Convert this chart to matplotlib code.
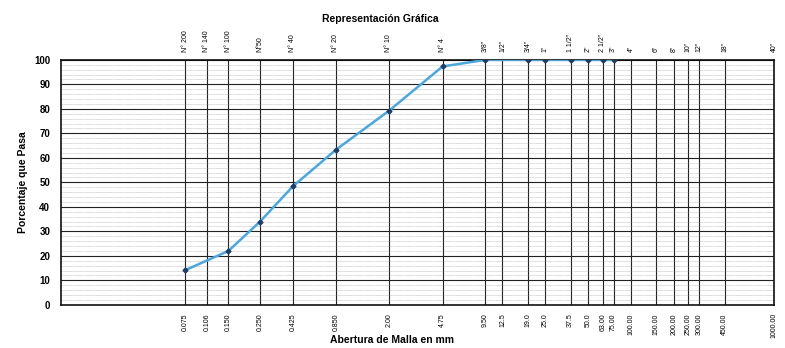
import matplotlib
matplotlib.use("Agg")
import matplotlib.pyplot as plt
import numpy as np

plt.rcParams['font.family'] = ['Liberation Sans', 'DejaVu Sans']

# tamices: abertura (mm) y designacion
sieve_mm = [0.075, 0.106, 0.150, 0.250, 0.425, 0.850, 2.00, 4.75, 9.50, 12.5,
            19.0, 25.0, 37.5, 50.0, 63.0, 75.0, 100.0, 150.0, 200.0, 250.0,
            300.0, 450.0, 1000.0]
sieve_mm_labels = ['0.075', '0.106', '0.150', '0.250', '0.425', '0.850', '2.00',
                   '4.75', '9.50', '12.5', '19.0', '25.0', '37.5', '50.0', '63.00',
                   '75.00', '100.00', '150.00', '200.00', '250.00', '300.00',
                   '450.00', '1000.00']
sieve_names = ['N° 200', 'N° 140', 'N° 100', 'N°50', 'N° 40', 'N° 20', 'N° 10',
               'N° 4', '3/8"', '1/2"', '3/4"', '1"', '1 1/2"', '2"', '2 1/2"',
               '3"', '4"', '6"', '8"', '10"', '12"', '18"', '40"']

# curva granulometrica
abertura = [0.075, 0.150, 0.250, 0.425, 0.850, 2.00, 4.75, 9.50, 19.0, 25.0,
            37.5, 50.0, 63.0, 75.0]
pasa = [14.2, 22.0, 34.0, 48.4, 63.3, 79.2, 97.3, 100, 100, 100,
        100, 100, 100, 100]

fig = plt.figure(figsize=(7.85, 3.48), dpi=100)
ax = fig.add_axes([0.078, 0.124, 0.908, 0.704])

ax.set_xscale('log')
ax.set_xlim(0.0101, 1000)
ax.set_ylim(0, 100)

# rejilla: verticales en cada tamiz, horizontales cada 10 y secundarias cada 2
for x in sieve_mm:
    ax.axvline(x, color='#222222', lw=0.8, zorder=1)
for y in np.arange(10, 100, 10):
    ax.axhline(y, color='#222222', lw=0.8, zorder=1)
for y in np.arange(0, 100, 2):
    if y % 10:
        ax.axhline(y, color='#999999', lw=0.4, ls=(0, (1, 1)), zorder=1)

ax.plot(abertura, pasa, color='#4da6dc', lw=1.8, zorder=3)
ax.plot(abertura, pasa, ls='none', marker='D', ms=2.5, color='#1f3d66', zorder=4)

ax.set_yticks(np.arange(0, 101, 10))
ax.tick_params(axis='y', labelsize=7, length=0, pad=8)
for lbl in ax.get_yticklabels():
    lbl.set_fontweight('bold')

ax.set_xticks(sieve_mm)
ax.set_xticklabels(sieve_mm_labels, rotation=90, fontsize=5)
ax.xaxis.set_minor_locator(matplotlib.ticker.NullLocator())
ax.tick_params(axis='x', length=0, pad=6)

# designacion de tamices arriba
top = ax.secondary_xaxis('top')
top.set_xticks(sieve_mm)
top.set_xticklabels(sieve_names, rotation=90, fontsize=5)
top.xaxis.set_minor_locator(matplotlib.ticker.NullLocator())
top.tick_params(axis='x', length=0, pad=6)

for s in ax.spines.values():
    s.set_linewidth(1.2)
    s.set_color('#111111')

ax.set_ylabel('Porcentaje que Pasa', fontsize=7.5, fontweight='bold', labelpad=4)
fig.text(0.50, 0.022, 'Abertura de Malla en mm', fontsize=7.5, fontweight='bold',
         ha='center', va='center')
fig.text(0.485, 0.945, 'Representación Gráfica', fontsize=7.5, fontweight='bold',
         ha='center', va='center')

fig.savefig('out.png', dpi=100)
